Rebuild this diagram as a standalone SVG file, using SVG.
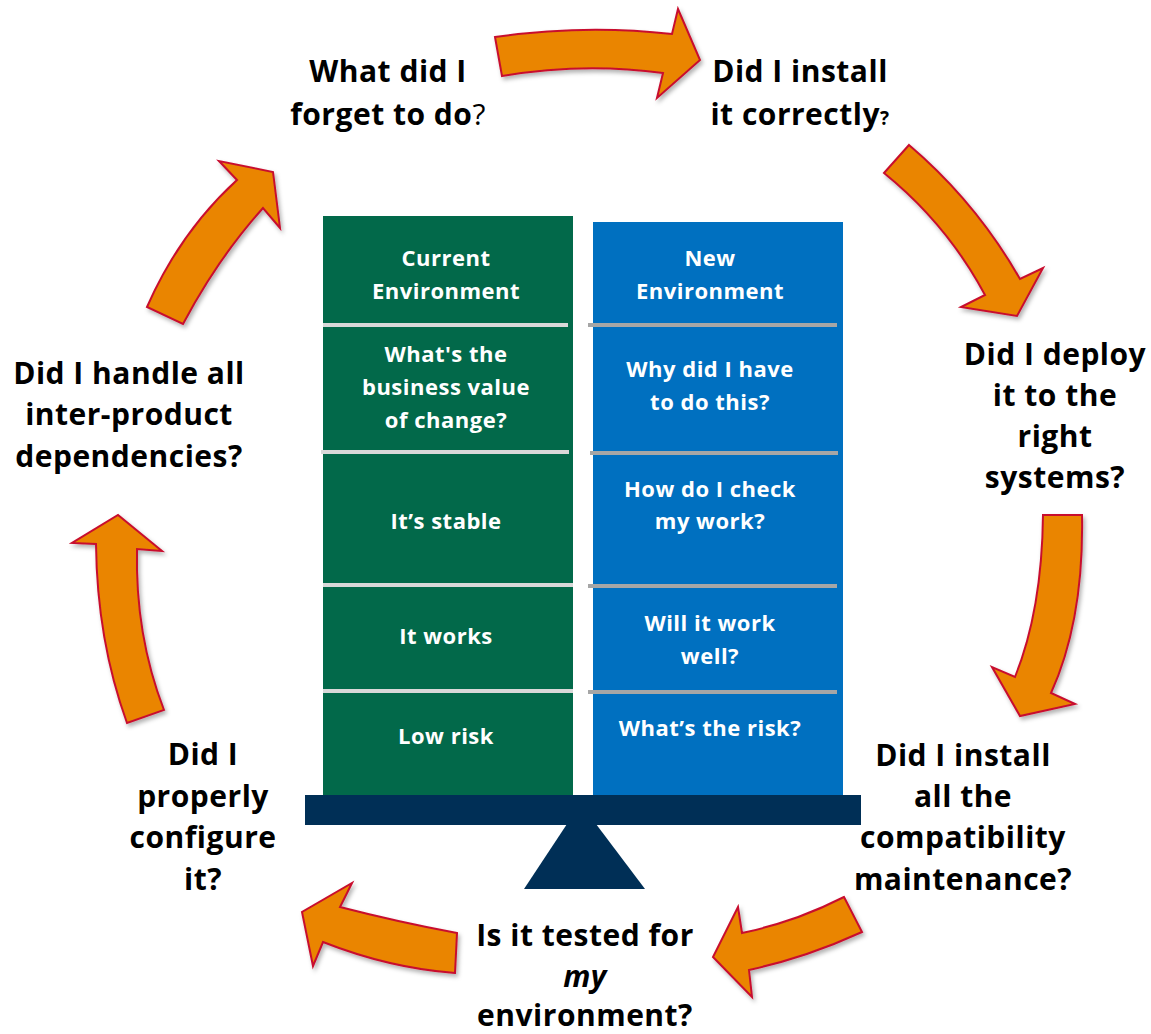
<svg xmlns="http://www.w3.org/2000/svg" width="1151" height="1034" viewBox="0 0 1151 1034">
<defs>
<filter id="sh" x="-20%" y="-20%" width="140%" height="140%">
<feDropShadow dx="2" dy="3" stdDeviation="2" flood-color="#000" flood-opacity="0.3"/>
</filter>
<style>
.arrow{fill:#EA8500;stroke:#C8102E;stroke-width:2;stroke-linejoin:miter;filter:url(#sh)}
.lbl{font-family:"Open Sans","Noto Sans","Liberation Sans",sans-serif;font-weight:bold;font-size:30px;letter-spacing:0.5px;fill:#000;text-anchor:middle}
.col{font-family:"Open Sans","Noto Sans","Liberation Sans",sans-serif;font-weight:bold;font-size:22px;letter-spacing:0.5px;fill:#fff;text-anchor:middle}
.gline{stroke:#D9D9D9;stroke-width:4}
.bline{stroke:#A6A6A6;stroke-width:4}
.nb{font-weight:normal}
</style>
</defs>
<rect width="1151" height="1034" fill="#fff"/>

<g id="current-env">
<rect x="323" y="216" width="250" height="580" fill="#02694A"/>
<line class="gline" x1="323" y1="325" x2="568" y2="325"/>
<line class="gline" x1="321" y1="452" x2="569" y2="452"/>
<line class="gline" x1="323" y1="585" x2="573" y2="585"/>
<line class="gline" x1="323" y1="691" x2="573" y2="691"/>
<text class="col" x="446" y="266">Current</text>
<text class="col" x="446" y="299">Environment</text>
<text class="col" x="446" y="362">What's the</text>
<text class="col" x="446" y="395">business value</text>
<text class="col" x="446" y="428">of change?</text>
<text class="col" x="446" y="529">It’s stable</text>
<text class="col" x="446" y="644">It works</text>
<text class="col" x="446" y="744">Low risk</text>
</g>

<g id="new-env">
<rect x="593" y="222" width="250" height="574" fill="#0070C0"/>
<line class="bline" x1="588" y1="325" x2="837" y2="325"/>
<line class="bline" x1="590" y1="453" x2="838" y2="453"/>
<line class="bline" x1="588" y1="586" x2="837" y2="586"/>
<line class="bline" x1="588" y1="692" x2="837" y2="692"/>
<text class="col" x="710" y="266">New</text>
<text class="col" x="710" y="299">Environment</text>
<text class="col" x="710" y="377">Why did I have</text>
<text class="col" x="710" y="410">to do this?</text>
<text class="col" x="710" y="497">How do I check</text>
<text class="col" x="710" y="529">my work?</text>
<text class="col" x="710" y="631">Will it work</text>
<text class="col" x="710" y="664">well?</text>
<text class="col" x="710" y="736">What’s the risk?</text>
</g>

<g id="scale">
<rect x="305" y="795" width="556" height="30" fill="#002F56"/>
<polygon points="567,824 596,824 645,889 524,889" fill="#002F56"/>
</g>

<g id="connectors">
<path class="arrow" d="M495,37 Q585,24 672,34 L678,9 L700,60 L657,98 L663,73 Q583,62 502,76 Z"/>
<path class="arrow" d="M884,173 L909,145 Q976,202 1020,279 L1043,268 L1017,316 L961,307 L985,295 Q947,224 884,173 Z"/>
<path class="arrow" d="M1043,515 L1082,515 Q1084,620 1051,693 L1075,704 L1020,716 L992,667 L1015,677 Q1042,610 1043,515 Z"/>
<path class="arrow" d="M844,897 L862,932 Q805,958 749,970 L752,997 L713,957 L738,907 L742,933 Q795,922 844,897 Z"/>
<path class="arrow" d="M457,933 Q398,922 340,907 L352,883 L302,912 L313,966 L323,942 Q389,968 455,973 Z"/>
<path class="arrow" d="M127,723 Q97,640 96,544 L72,543 L118,515 L162,551 L137,549 Q135,635 164,710 Z"/>
<path class="arrow" d="M147,307 Q180,232 237,180 L219,161 L273,172 L280,228 L263,208 Q218,258 183,324 Z"/>
</g>

<g id="q-forget">
<text class="lbl" x="388" y="82">What did I</text>
<text class="lbl" x="388" y="125">forget to do<tspan class="nb">?</tspan></text>
</g>
<g id="q-install">
<text class="lbl" x="800" y="82">Did I install</text>
<text class="lbl" x="800" y="125">it correctly<tspan font-size="19">?</tspan></text>
</g>
<g id="q-deploy">
<text class="lbl" x="1055" y="365">Did I deploy</text>
<text class="lbl" x="1055" y="406">it to the</text>
<text class="lbl" x="1055" y="447">right</text>
<text class="lbl" x="1055" y="488">systems?</text>
</g>
<g id="q-compat">
<text class="lbl" x="963" y="766">Did I install</text>
<text class="lbl" x="963" y="807">all the</text>
<text class="lbl" x="963" y="848">compatibility</text>
<text class="lbl" x="963" y="890">maintenance?</text>
</g>
<g id="q-tested">
<text class="lbl" x="585" y="946">Is it tested for</text>
<text class="lbl" x="585" y="987" font-style="italic">my</text>
<text class="lbl" x="585" y="1026">environment?</text>
</g>
<g id="q-configure">
<text class="lbl" x="203" y="765">Did I</text>
<text class="lbl" x="203" y="807">properly</text>
<text class="lbl" x="203" y="848">configure</text>
<text class="lbl" x="203" y="890">it?</text>
</g>
<g id="q-deps">
<text class="lbl" x="129" y="384">Did I handle all</text>
<text class="lbl" x="129" y="425">inter-product</text>
<text class="lbl" x="129" y="467">dependencies?</text>
</g>
</svg>
